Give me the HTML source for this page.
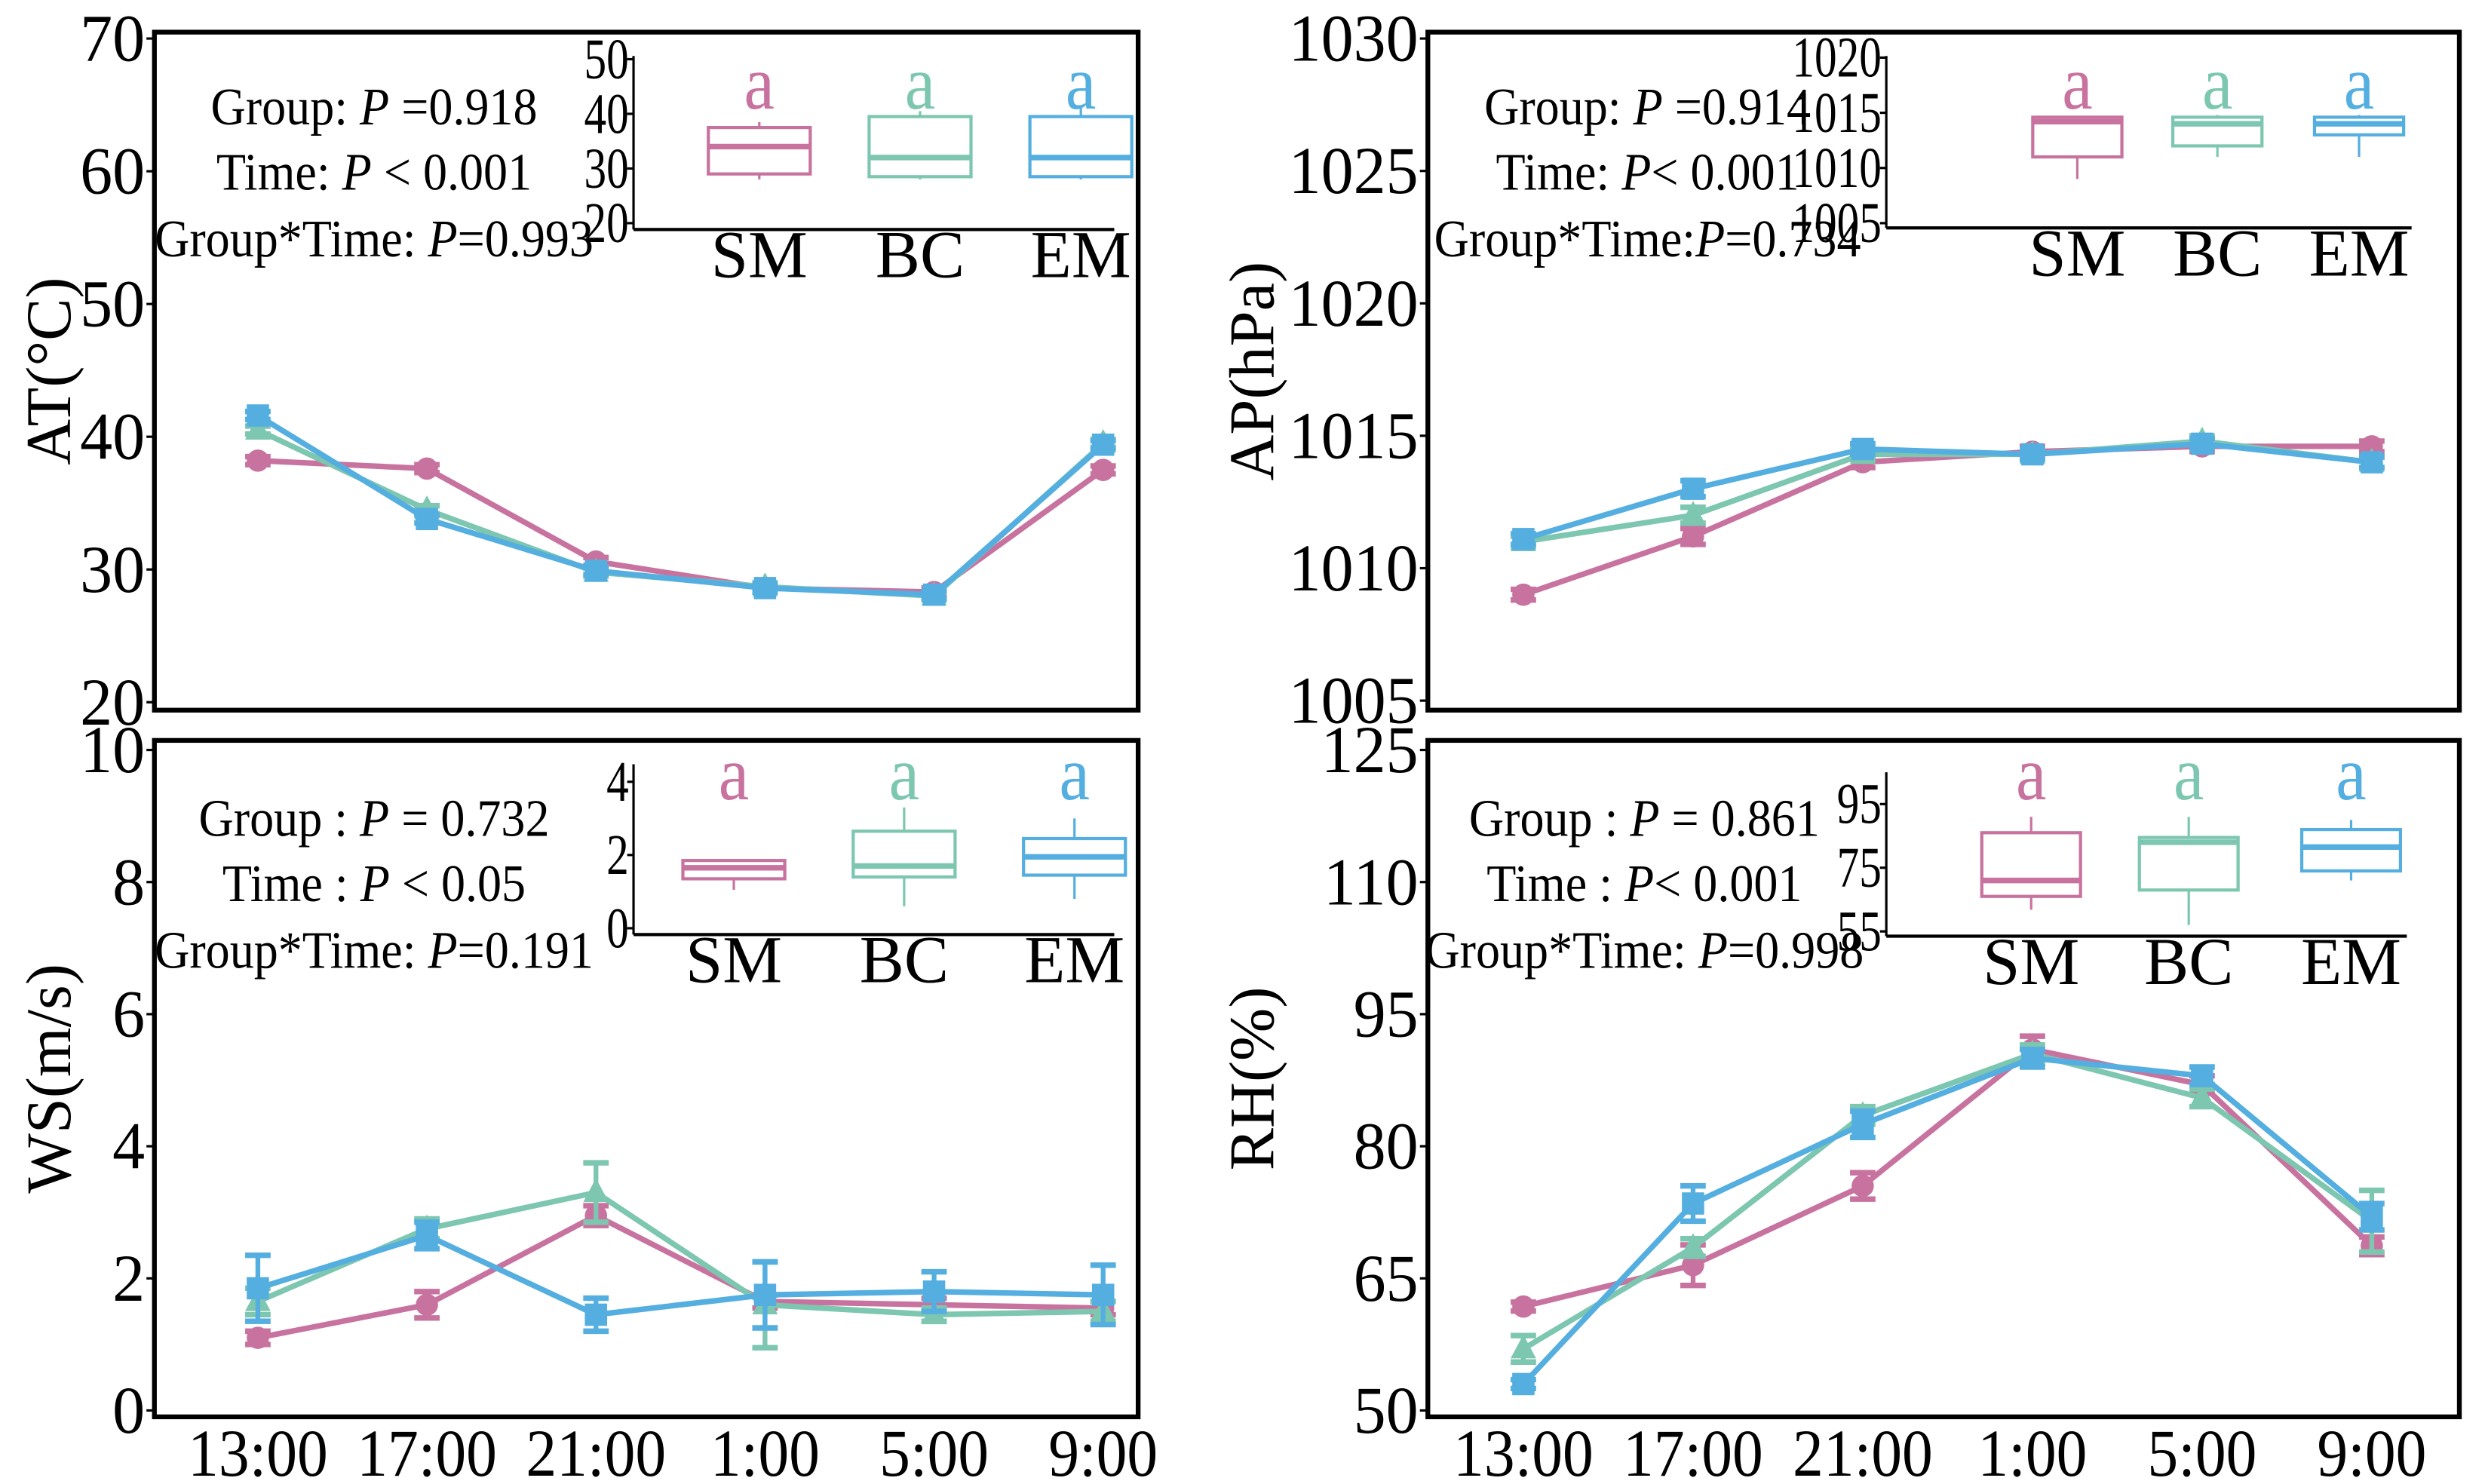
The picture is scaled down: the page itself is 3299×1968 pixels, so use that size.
<!DOCTYPE html>
<html><head><meta charset="utf-8"><style>
html,body{margin:0;padding:0;background:#fff;}
svg{display:block;}
text{font-family:"Liberation Serif",serif;}
</style></head><body>
<svg id="chart" width="3299" height="1968" viewBox="0 0 1563 932" xmlns="http://www.w3.org/2000/svg"></svg>
<script>
const times = ["13:00","17:00","21:00","1:00","5:00","9:00"];
const groups = ["SM","BC","EM"];
const colors = ["#c8739f","#7dc6b0","#54aee0"];

const atSM = [38.2,37.6,30.6,28.6,28.3,37.5];
const atBC = [40.5,34.5,29.8,28.7,28.0,39.5];
const atEM = [41.6,33.8,29.9,28.6,28.1,39.4];
const atErr = [0.3,0.3,0.3,0.3,0.3,0.3];
const apSM = [1009.0,1011.2,1014.0,1014.4,1014.6,1014.6];
const apBC = [1011.0,1012.0,1014.3,1014.3,1014.8,1014.0];
const apEM = [1011.1,1013.0,1014.5,1014.3,1014.7,1014.0];
const apErr = [0.2,0.3,0.2,0.2,0.2,0.2];
const wsSM = [1.1,1.6,2.95,1.65,1.6,1.55];
const wsBC = [1.65,2.75,3.3,1.6,1.45,1.5];
const wsEM = [1.85,2.65,1.45,1.75,1.8,1.75];
const wsErrSM = [0.1,0.2,0.15,0.1,0.1,0.1];
const wsErrBC = [0.2,0.15,0.45,0.65,0.1,0.15];
const wsErrEM = [0.5,0.2,0.25,0.5,0.3,0.45];
const rhSM = [61.8,66.5,75.5,91,87,68.7];
const rhBC = [57,68.5,83.5,90.5,85.5,71.5];
const rhEM = [53,73.5,82.5,90,88,72];
const rhErrSM = [0.5,2.3,1.5,1.5,1,1];
const rhErrBC = [1.5,1,1,1,1,3.5];
const rhErrEM = [0.5,2,1.5,1,1,1.5];

// box stats: [min, q1, median, q3, max] per group
const atBox = [[28,29,34,37.5,38.5],[28,28.5,32,39.5,40.5],[28,28.5,32,39.5,41.5]];
const apBox = [[1009,1011,1014.2,1014.6,1014.7],[1011,1012,1014,1014.6,1014.8],[1011,1013,1014,1014.6,1014.8]];
const wsBox = [[1.05,1.35,1.65,1.85,1.85],[0.6,1.4,1.7,2.65,3.3],[0.8,1.45,1.95,2.45,3.0]];
const rhBox = [[61.8,66,71,86,91],[57,68,83,84.5,91],[71,74,81.5,87,90]];

const atTicks = [20,30,40,50,60,70];
const apTicks = [1005,1010,1015,1020,1025,1030];
const wsTicks = [0,2,4,6,8,10];
const rhTicks = [50,65,80,95,110,125];
const atInTicks = [20,30,40,50];
const apInTicks = [1005,1010,1015,1020];
const wsInTicks = [0,2,4];
const rhInTicks = [55,75,95];

const NS="http://www.w3.org/2000/svg";
const svg=document.getElementById('chart');
function el(tag,attrs,parent){const e=document.createElementNS(NS,tag);for(const k in attrs)e.setAttribute(k,attrs[k]);(parent||svg).appendChild(e);return e;}
function txt(parent,x,y,s,size,anchor,sx,fill,italicParts){
  const g=el('g',{transform:`translate(${x},${y}) scale(${sx},1)`},parent);
  const t=el('text',{x:0,y:0,'font-size':size,'text-anchor':anchor,fill:fill||'#000'},g);
  if(italicParts){italicParts.forEach(p=>{const ts=el('tspan',{'font-style':p[1]?'italic':'normal'},t);ts.textContent=p[0];});}
  else t.textContent=s;
  return t;
}

function panel(o){
  const g=el('g',{});
  
  
  const [L,T,R,B]=o.frame;
  const y=v=>o.y0px+(v-o.ymin)/(o.ymax-o.ymin)*(o.y1px-o.y0px);
  const x=i=>o.xs[0]+i*(o.xs[1]-o.xs[0])/5;
  const fr=el('rect',{x:L,y:T,width:R-L,height:B-T,fill:'none',stroke:'#000','stroke-width':3},g);
  
  o.ticks.forEach(v=>{
    el('line',{x1:L-5,x2:L,y1:y(v),y2:y(v),stroke:'#000','stroke-width':1.5},g);
    const t=txt(g,L-6,y(v)+14,String(v),42,'end',0.97);
    
  });
  if(o.xlabels){times.forEach((s,i)=>{
    const t=txt(g,x(i),B+37,s,42,'middle',0.92);
    
  });}
  const yt=el('text',{x:0,y:0,'font-size':40,'text-anchor':'middle',transform:`translate(${o.ytx},${(T+B)/2}) rotate(-90)`},g);
  yt.textContent=o.ytitle;
  o.series.forEach((s,k)=>{
    const c=colors[k];
    const sg=el('g',{},g);
    
    el('polyline',{points:s.map((v,i)=>x(i)+','+y(v)).join(' '),fill:'none',stroke:c,'stroke-width':3.5},sg);
    s.forEach((v,i)=>{
      const e=o.errs[k][i];
      el('line',{x1:x(i),x2:x(i),y1:y(v-e),y2:y(v+e),stroke:c,'stroke-width':3},sg);
      el('line',{x1:x(i)-8,x2:x(i)+8,y1:y(v-e),y2:y(v-e),stroke:c,'stroke-width':3.5},sg);
      el('line',{x1:x(i)-8,x2:x(i)+8,y1:y(v+e),y2:y(v+e),stroke:c,'stroke-width':3.5},sg);
      let m;
      if(k==0)m=el('circle',{cx:x(i),cy:y(v),r:7,fill:c},sg);
      else if(k==1)m=el('polygon',{points:`${x(i)},${y(v)-9} ${x(i)-8},${y(v)+6} ${x(i)+8},${y(v)+6}`,fill:c},sg);
      else m=el('rect',{x:x(i)-7,y:y(v)-7,width:14,height:14,fill:c},sg);
      
      
    });
  });
  const an=el('g',{},g);
  
  o.ann.forEach((parts,j)=>txt(an,o.annX,o.annY[j],'',33,'middle',0.92,'#000',parts));
  const ig=el('g',{},g);
  
  const iy=v=>o.in.y0+(v-o.in.min)/(o.in.max-o.in.min)*(o.in.y1-o.in.y0);
  el('line',{x1:o.in.ax,x2:o.in.ax,y1:o.in.top,y2:o.in.bot,stroke:'#000','stroke-width':1.5},ig);
  el('line',{x1:o.in.ax,x2:o.in.right,y1:o.in.bot,y2:o.in.bot,stroke:'#000','stroke-width':2},ig);
  o.in.ticks.forEach(v=>{
    el('line',{x1:o.in.ax-4,x2:o.in.ax,y1:iy(v),y2:iy(v),stroke:'#000','stroke-width':1.5},ig);
    const t=txt(ig,o.in.ax-3,iy(v)+12,String(v),36,'end',0.78);
    
  });
  o.box.forEach((b,k)=>{
    const cx=o.in.cx[k],c=colors[k],w=o.in.bw/2;
    const bg=el('g',{},ig);
    
    el('line',{x1:cx,x2:cx,y1:iy(b[0]),y2:iy(b[1]),stroke:c,'stroke-width':1.5},bg);
    el('line',{x1:cx,x2:cx,y1:iy(b[3]),y2:iy(b[4]),stroke:c,'stroke-width':1.5},bg);
    el('rect',{x:cx-w,y:iy(b[3]),width:2*w,height:iy(b[1])-iy(b[3]),fill:'none',stroke:c,'stroke-width':2},bg);
    el('line',{x1:cx-w,x2:cx+w,y1:iy(b[2]),y2:iy(b[2]),stroke:c,'stroke-width':3.5},bg);
    const a=txt(ig,cx,o.in.aY,'a',48,'middle',0.9,c);
    
    const gl=txt(ig,cx,o.in.bot+30,groups[k],42,'middle',1.0);
    
  });
}

panel({name:'panel-at',frame:[97,20,715,446],ymin:20,ymax:70,y0px:441,y1px:24,ticks:atTicks,xs:[162,693],
  ytitle:'AT(°C)',ytx:44,series:[atSM,atBC,atEM],errs:[atErr,atErr,atErr],xlabels:false,
  ann:[[['Group: ',0],['P',1],[' =0.918',0]],[['Time:  ',0],['P',1],[' < 0.001',0]],[['Group*Time: ',0],['P',1],['=0.993',0]]],
  annX:235,annY:[78,119,161],box:atBox,
  in:{ax:398,top:35,bot:144,right:700,y0:140,y1:37,min:20,max:50,ticks:atInTicks,cx:[477,578,679],bw:64,aY:68}});

panel({name:'panel-ap',frame:[897,20,1545,446],ymin:1005,ymax:1030,y0px:440,y1px:24,ticks:apTicks,xs:[957,1490],
  ytitle:'AP(hPa)',ytx:800,series:[apSM,apBC,apEM],errs:[apErr,apErr,apErr],xlabels:false,
  ann:[[['Group: ',0],['P',1],[' =0.914',0]],[['Time:  ',0],['P',1],['< 0.001',0]],[['Group*Time:',0],['P',1],['=0.734',0]]],
  annX:1035,annY:[78,119,161],box:apBox,
  in:{ax:1185,top:35,bot:143,right:1515,y0:140,y1:36,min:1005,max:1020,ticks:apInTicks,cx:[1305,1393,1482],bw:56,aY:68}});

panel({name:'panel-ws',frame:[97,465,715,890],ymin:0,ymax:10,y0px:886,y1px:471,ticks:wsTicks,xs:[162,693],
  ytitle:'WS(m/s)',ytx:44,series:[wsSM,wsBC,wsEM],errs:[wsErrSM,wsErrBC,wsErrEM],xlabels:true,
  ann:[[['Group :  ',0],['P',1],[' = 0.732',0]],[['Time : ',0],['P',1],['  < 0.05',0]],[['Group*Time: ',0],['P',1],['=0.191',0]]],
  annX:235,annY:[525,566,608],box:wsBox,
  in:{ax:398,top:480,bot:587,right:700,y0:583,y1:491,min:0,max:4,ticks:wsInTicks,cx:[461,568,675],bw:64,aY:502}});

panel({name:'panel-rh',frame:[897,465,1545,890],ymin:50,ymax:125,y0px:886,y1px:471,ticks:rhTicks,xs:[957,1490],
  ytitle:'RH(%)',ytx:800,series:[rhSM,rhBC,rhEM],errs:[rhErrSM,rhErrBC,rhErrEM],xlabels:true,
  ann:[[['Group :  ',0],['P',1],[' = 0.861',0]],[['Time :  ',0],['P',1],['< 0.001',0]],[['Group*Time: ',0],['P',1],['=0.998',0]]],
  annX:1033,annY:[525,566,608],box:rhBox,
  in:{ax:1185,top:485,bot:588,right:1512,y0:585,y1:505,min:55,max:95,ticks:rhInTicks,cx:[1276,1375,1477],bw:62,aY:502}});
</script>
</body></html>
